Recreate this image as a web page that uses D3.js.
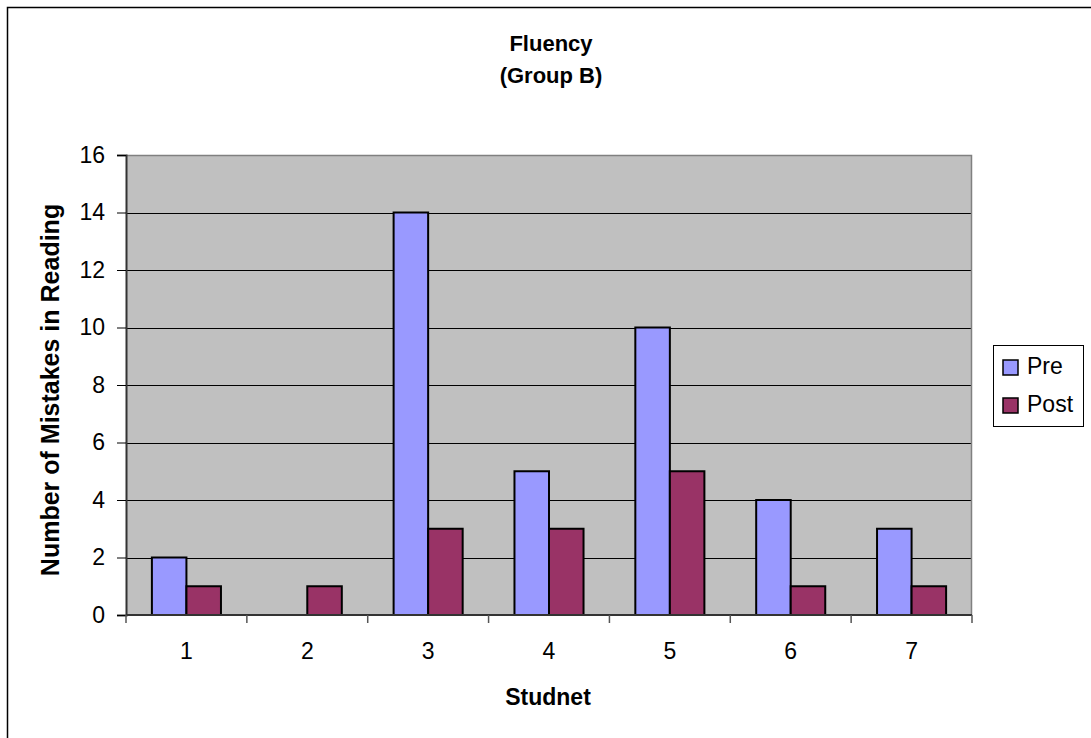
<!DOCTYPE html>
<html>
<head>
<meta charset="utf-8">
<script src="https://cdn.jsdelivr.net/npm/d3@7"></script>
<style>
  html, body { margin: 0; padding: 0; background: #fff; }
  svg { display: block; font-family: Arial, "Liberation Sans", sans-serif; }
</style>
</head>
<body>
<svg id="chart" width="1091" height="738"></svg>
<script>
// Mistakes in reading per student, before and after
const students = ["1", "2", "3", "4", "5", "6", "7"];
const preValues = [2, 0, 14, 5, 10, 4, 3];
const postValues = [1, 1, 3, 3, 5, 1, 1];
const seriesNames = ["Pre", "Post"];
const seriesColors = ["#9999FF", "#993366"];
const yTicks = [0, 2, 4, 6, 8, 10, 12, 14, 16];

const svg = d3.select("#chart");

// outer chart frame
svg.append("rect")
  .attr("x", 7.5).attr("y", 7.5)
  .attr("width", 1200).attr("height", 900)
  .attr("fill", "#fff").attr("stroke", "#000").attr("stroke-width", 1.5);

const plot = { left: 126, top: 155, right: 972, bottom: 615 };

const x = d3.scaleBand().domain(students).range([plot.left, plot.right]);
const inner = d3.scaleBand().domain(seriesNames)
  .range([0, x.bandwidth()]).paddingInner(0).paddingOuter(0.75);
const y = d3.scaleLinear().domain([0, 16]).range([plot.bottom, plot.top]);

// plot background
svg.append("rect")
  .attr("x", plot.left).attr("y", plot.top)
  .attr("width", plot.right - plot.left).attr("height", plot.bottom - plot.top)
  .attr("fill", "#C0C0C0");

// gridlines
svg.append("g").selectAll("line")
  .data(yTicks.filter(t => t > 0 && t < 16))
  .join("line")
  .attr("x1", plot.left).attr("x2", plot.right)
  .attr("y1", d => Math.round(y(d)) + 0.5).attr("y2", d => Math.round(y(d)) + 0.5)
  .attr("stroke", "#000").attr("stroke-width", 1);

// plot border (top and right)
svg.append("path")
  .attr("d", `M${plot.left},${plot.top + 0.5}H${plot.right - 0.5}V${plot.bottom}`)
  .attr("fill", "none").attr("stroke", "#808080").attr("stroke-width", 1.5);

// bars
const rows = students.map((s, i) => ({ student: s, values: [preValues[i], postValues[i]] }));
const groups = svg.append("g").selectAll("g")
  .data(rows).join("g")
  .attr("transform", d => `translate(${x(d.student)},0)`);
groups.selectAll("rect")
  .data(d => d.values.map((v, k) => ({ key: seriesNames[k], value: v, color: seriesColors[k] }))
    .filter(d => d.value > 0))
  .join("rect")
  .attr("x", d => inner(d.key))
  .attr("width", inner.bandwidth())
  .attr("y", d => y(d.value))
  .attr("height", d => y(0) - y(d.value))
  .attr("fill", d => d.color)
  .attr("stroke", "#000").attr("stroke-width", 2);

// y axis
const yAxis = svg.append("g")
  .attr("transform", `translate(${plot.left},0)`)
  .call(d3.axisLeft(y).tickValues(yTicks).tickSize(9).tickPadding(12).tickFormat(d3.format("d")));
yAxis.select(".domain").attr("stroke", "#333").attr("stroke-width", 2);
yAxis.selectAll(".tick line").attr("stroke", "#000");
yAxis.selectAll("text").attr("font-size", 23).attr("fill", "#000");

// x axis with ticks at category boundaries
const boundaries = d3.range(students.length + 1).map(i => plot.left + i * x.step());
const xAxisG = svg.append("g");
xAxisG.append("line")
  .attr("x1", plot.left).attr("x2", plot.right)
  .attr("y1", plot.bottom).attr("y2", plot.bottom)
  .attr("stroke", "#333").attr("stroke-width", 2);
xAxisG.selectAll("line.tk").data(boundaries).join("line").attr("class", "tk")
  .attr("x1", d => d).attr("x2", d => d)
  .attr("y1", plot.bottom).attr("y2", plot.bottom + 8)
  .attr("stroke", "#555").attr("stroke-width", 1.5);
xAxisG.selectAll("text").data(students).join("text")
  .attr("x", d => x(d) + x.bandwidth() / 2)
  .attr("y", 659)
  .attr("text-anchor", "middle")
  .attr("font-size", 23)
  .text(d => d);

// titles
svg.append("text").attr("x", 551).attr("y", 51).attr("text-anchor", "middle")
  .attr("font-size", 22).attr("font-weight", "bold").text("Fluency");
svg.append("text").attr("x", 551).attr("y", 83).attr("text-anchor", "middle")
  .attr("font-size", 22).attr("font-weight", "bold").text("(Group B)");
svg.append("text").attr("x", 548).attr("y", 705).attr("text-anchor", "middle")
  .attr("font-size", 23).attr("font-weight", "bold").text("Studnet");
svg.append("text")
  .attr("transform", "translate(59,390) rotate(-90)")
  .attr("text-anchor", "middle")
  .attr("font-size", 25).attr("font-weight", "bold")
  .text("Number of Mistakes in Reading");

// legend
const legend = svg.append("g");
legend.append("rect")
  .attr("x", 993.5).attr("y", 345.5).attr("width", 90).attr("height", 81)
  .attr("fill", "#fff").attr("stroke", "#000").attr("stroke-width", 1);
const items = legend.selectAll("g.item").data(seriesNames).join("g").attr("class", "item")
  .attr("transform", (d, i) => `translate(1003,${360 + i * 38})`);
items.append("rect")
  .attr("width", 15).attr("height", 15)
  .attr("fill", (d, i) => seriesColors[i])
  .attr("stroke", "#000").attr("stroke-width", 1.5);
items.append("text")
  .attr("x", 24).attr("y", 14)
  .attr("font-size", 23)
  .text(d => d);
</script>
</body>
</html>
